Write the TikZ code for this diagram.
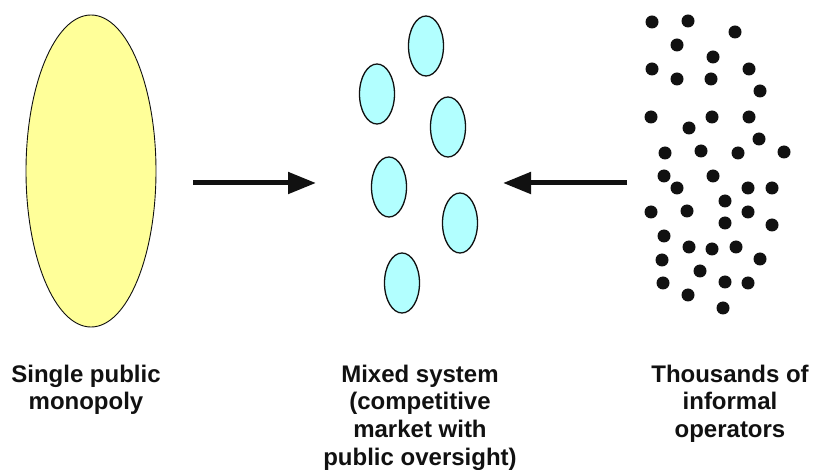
\documentclass[tikz,border=0pt]{standalone}
\usepackage{fontspec}
\setmainfont{Liberation Sans}
\usetikzlibrary{shapes.geometric,arrows.meta}
\definecolor{monoyellow}{HTML}{FFFF99}
\definecolor{mixcyan}{HTML}{B2FFFF}
\definecolor{inkdark}{HTML}{111111}
\tikzset{
  monopoly/.style={ellipse,draw=inkdark,line width=0.9pt,fill=monoyellow,
    minimum width=130pt,minimum height=312pt,inner sep=0pt},
  firm/.style={ellipse,draw=inkdark,line width=1.3pt,fill=mixcyan,
    minimum width=35pt,minimum height=60pt,inner sep=0pt},
  operator/.style={circle,fill=inkdark,minimum size=13pt,inner sep=0pt},
  flow/.style={draw=inkdark,line width=5pt,-{Triangle[length=28pt,width=21pt]}},
  caption/.style={anchor=north,align=center,inner sep=0pt,text=inkdark,
    font=\bfseries\fontsize{24}{27.7}\selectfont}
}
\begin{document}
\begin{tikzpicture}[x=1pt,y=-1pt]
\useasboundingbox (0,0) rectangle (815,470);

% single public monopoly
\node[monopoly] (mono) at (91,171) {};

% mixed system: a few competing firms
\node[firm] (f1) at (426,46) {};
\node[firm] (f2) at (377,94) {};
\node[firm] (f3) at (448,127) {};
\node[firm] (f4) at (389,187) {};
\node[firm] (f5) at (460,223) {};
\node[firm] (f6) at (402,283) {};

% many informal operators
\foreach [count=\i] \px/\py in {
  652/22,688/21,735/32,677/45,713/57,652/69,749/69,677/79,711/79,760/91,
  651/117,712/117,749/117,689/128,759/139,665/153,701/151,738/153,784/152,
  664/176,713/176,677/188,748/188,772/188,725/201,651/212,687/211,748/212,
  725/223,772/225,664/236,689/247,712/249,736/247,760/259,662/260,700/271,
  663/283,725/282,748/283,688/295,723/308}
  \node[operator] (op\i) at (\px,\py) {};

% transitions towards the mixed system
\coordinate (leftfrom) at (193,183);
\coordinate (leftto) at (316,183);
\coordinate (rightfrom) at (627,183);
\coordinate (rightto) at (503,183);
\draw[flow] (leftfrom) -- (leftto);
\draw[flow] (rightfrom) -- (rightto);

% captions
\node[caption] (capmono) at (86,364.5) {Single public\\monopoly};
\node[caption] (capmix) at (420,364.5) {Mixed system\\(competitive\\market with\\public oversight)};
\node[caption] (capinf) at (730,364.5) {Thousands of\\informal\\operators};
\end{tikzpicture}
\end{document}
